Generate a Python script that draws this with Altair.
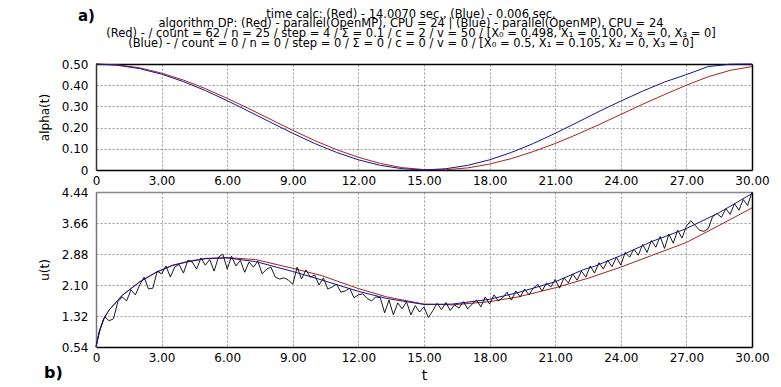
import altair as alt
import pandas as pd

# ---------------- data ----------------
t_alpha = list(range(31))
alpha_red = [0.500, 0.496, 0.482, 0.457, 0.424, 0.384, 0.338, 0.289, 0.238, 0.187,
             0.139, 0.096, 0.060, 0.031, 0.011, 0.002, 0.001, 0.010, 0.028, 0.054,
             0.087, 0.125, 0.168, 0.214, 0.262, 0.310, 0.356, 0.400, 0.440, 0.470, 0.488]
alpha_blue = [0.500, 0.494, 0.478, 0.452, 0.417, 0.375, 0.327, 0.276, 0.224, 0.173,
              0.125, 0.083, 0.048, 0.022, 0.006, 0.000, 0.006, 0.022, 0.048, 0.083,
              0.125, 0.173, 0.224, 0.276, 0.325, 0.372, 0.415, 0.450, 0.488, 0.499, 0.500]

t_u_blue = [0, 0.15, 0.35, 0.6, 1.2, 2, 2.75, 3.5, 4.25, 5, 6, 7.3, 9, 10.3, 12, 13.3, 15,
            16.3, 18, 19.3, 21, 22.3, 22.8, 24, 25.4, 27, 28.5, 30]
u_blue = [0.54, 0.93, 1.25, 1.47, 1.84, 2.18, 2.42, 2.59, 2.69, 2.76, 2.78, 2.69, 2.44, 2.23,
          1.94, 1.76, 1.61, 1.62, 1.74, 1.91, 2.18, 2.49, 2.57, 2.84, 3.19, 3.52, 3.92, 4.40]

t_u_red = [0, 0.15, 0.35, 0.6, 1.2, 2, 2.75, 3.5, 4.25, 5, 6, 7.3, 9, 10.3, 12, 13.3, 15,
           16.3, 18, 19.3, 21, 22.5, 24, 25.4, 27, 28.5, 30]
u_red = [0.54, 0.93, 1.25, 1.47, 1.84, 2.18, 2.42, 2.60, 2.70, 2.77, 2.79, 2.74, 2.52, 2.34,
         2.01, 1.80, 1.62, 1.60, 1.68, 1.80, 2.03, 2.27, 2.55, 2.84, 3.17, 3.60, 4.04]

t_black = [round(i * 0.2, 1) for i in range(151)]
u_black = [0.56, 1.00, 1.30, 1.20, 1.25, 1.68, 1.80, 1.70, 1.98, 1.85,
           2.10, 2.30, 2.00, 2.02, 2.45, 2.38, 2.58, 2.30, 2.55, 2.62,
           2.40, 2.72, 2.68, 2.50, 2.78, 2.60, 2.74, 2.45, 2.80, 2.88,
           2.50, 2.82, 2.58, 2.72, 2.42, 2.68, 2.55, 2.70, 2.38, 2.50,
           2.55, 2.30, 2.25, 2.28, 2.22, 2.12, 2.55, 2.25, 2.48, 2.30,
           2.35, 2.10, 2.28, 2.00, 2.05, 2.12, 1.92, 1.95, 2.02, 1.78,
           1.85, 1.88, 1.76, 1.70, 1.80, 1.78, 1.40, 1.72, 1.35, 1.65,
           1.50, 1.68, 1.35, 1.58, 1.42, 1.55, 1.28, 1.45, 1.64, 1.48,
           1.66, 1.46, 1.60, 1.52, 1.68, 1.50, 1.62, 1.72, 1.55, 1.80,
           1.62, 1.85, 1.70, 1.78, 1.92, 1.72, 1.95, 1.80, 2.00, 1.85,
           2.02, 2.12, 1.95, 2.15, 2.05, 2.24, 2.02, 2.28, 2.15, 2.38,
           2.22, 2.45, 2.30, 2.58, 2.40, 2.66, 2.50, 2.72, 2.56, 2.80,
           2.60, 2.92, 2.80, 3.00, 2.85, 3.12, 2.92, 3.22, 3.05, 3.32,
           3.02, 3.38, 3.15, 3.48, 3.28, 3.58, 3.72, 3.60, 3.48, 3.45,
           3.52, 3.82, 3.90, 3.80, 4.02, 3.88, 4.15, 3.98, 4.25, 4.10,
           4.44]

x_ticks = [0, 3, 6, 9, 12, 15, 18, 21, 24, 27, 30]
alpha_ticks = [0, 0.1, 0.2, 0.3, 0.4, 0.5]
u_ticks = [0.54, 1.32, 2.10, 2.88, 3.66, 4.44]

title_lines = [
    "time calc:  (Red) - 14.0070 sec., (Blue) - 0.006 sec.",
    "algorithm DP:  (Red) - parallel(OpenMP), CPU = 24 | (Blue) - parallel(OpenMP), CPU = 24",
    "(Red) - / count = 62 / n = 25 / step = 4 / \u03a3 = 0.1 / c = 2 / v = 50 / [X\u2080 = 0.498, X\u2081 = 0.100, X\u2082 = 0, X\u2083 = 0]",
    "(Blue) - / count = 0 / n = 0 / step = 0 / \u03a3 = 0 / c = 0 / v = 0 / [X\u2080 = 0.5, X\u2081 = 0.105, X\u2082 = 0, X\u2083 = 0]",
]

RED = "#a8201f"
BLUE = "#141490"
FONT = "DejaVu Sans"

# layout constants (pixels, relative to each plot area)
TITLE_X = 315
TITLE_Y = [-46.5, -36.7, -26.9, -17.1]

# ---------------- frames ----------------
df_alpha = pd.concat([
    pd.DataFrame({"t": t_alpha, "v": alpha_red, "s": "Red"}),
    pd.DataFrame({"t": t_alpha, "v": alpha_blue, "s": "Blue"}),
])
df_ured = pd.DataFrame({"t": t_u_red, "v": u_red})
df_ublue = pd.DataFrame({"t": t_u_blue, "v": u_blue})
df_ublack = pd.DataFrame({"t": t_black, "v": u_black})

label_expr = "datum.value == 0 ? '0' : format(datum.value, '.2f')"


def x_axis(title=None):
    return alt.Axis(values=x_ticks, labelExpr=label_expr, title=title, grid=True,
                    gridDash=[2, 2], gridColor="#999999", gridWidth=1, ticks=False,
                    domainColor="black", domainWidth=1.5, labelFont=FONT, labelFontSize=12,
                    labelColor="black", labelPadding=5, labelFlush=False,
                    labelOverlap=False, titleFont=FONT, titleFontSize=14,
                    titleFontWeight="normal", titleColor="black", titlePadding=5)


def y_axis(vals, title, fmt_expr, dom):
    return alt.Axis(values=vals, labelExpr=fmt_expr, title=title, grid=True,
                    gridDash=[2, 2], gridColor="#999999", gridWidth=1, ticks=False,
                    domainColor=dom, domainWidth=1.5, labelFont=FONT, labelFontSize=12,
                    labelColor="black", labelPadding=8, labelFlush=False,
                    labelOverlap=False, titleFont=FONT, titleFontSize=12,
                    titleFontWeight="normal", titleColor="black", titlePadding=10)


def border_axis(orient, color):
    return alt.Axis(orient=orient, labels=False, ticks=False, grid=False, title=None,
                    domainColor=color, domainWidth=1.5)


xs = alt.Scale(domain=[0, 30], nice=False, zero=False)

# ---------------- top panel ----------------
a_scale = alt.Scale(domain=[0, 0.5], nice=False, zero=False)
top_lines = alt.Chart(df_alpha).mark_line(strokeWidth=1).encode(
    x=alt.X("t:Q", scale=xs, axis=x_axis()),
    y=alt.Y("v:Q", scale=a_scale,
            axis=y_axis(alpha_ticks, "alpha(t)", label_expr, "#333333")),
    color=alt.Color("s:N", scale=alt.Scale(domain=["Red", "Blue"], range=[RED, BLUE]),
                    legend=None),
    detail="s:N",
)
top_border = alt.Chart(df_alpha).mark_line(opacity=0).encode(
    x=alt.X("t:Q", scale=xs, axis=border_axis("top", "black")),
    y=alt.Y("v:Q", scale=a_scale, axis=border_axis("right", "black")),
)
title_layers = [
    alt.Chart(pd.DataFrame({"l": [line]})).mark_text(
        font=FONT, fontSize=11.5, align="center", baseline="alphabetic", color="black"
    ).encode(text="l:N", x=alt.value(TITLE_X), y=alt.value(TITLE_Y[i]))
    for i, line in enumerate(title_lines)
]
label_a = alt.Chart(pd.DataFrame({"l": ["a)"]})).mark_text(
    font=FONT, fontSize=15, fontWeight="bold", align="left", baseline="alphabetic",
    color="black").encode(text="l:N", x=alt.value(-18), y=alt.value(-43))

top = alt.layer(top_lines, top_border, *title_layers, label_a).resolve_axis(
    x="independent", y="independent").properties(width=656, height=106)

# ---------------- bottom panel ----------------
u_scale = alt.Scale(domain=[0.54, 4.44], nice=False, zero=False)

b_red = alt.Chart(df_ured).mark_line(strokeWidth=1, color=RED).encode(
    x=alt.X("t:Q", scale=xs, axis=x_axis("t")),
    y=alt.Y("v:Q", scale=u_scale,
            axis=y_axis(u_ticks, "u(t)", "format(datum.value, '.2f')", "#777777")))
b_black = alt.Chart(df_ublack).mark_line(strokeWidth=0.9, color="black").encode(
    x=alt.X("t:Q", scale=xs, axis=None), y=alt.Y("v:Q", scale=u_scale, axis=None))
b_blue = alt.Chart(df_ublue).mark_line(strokeWidth=1, color=BLUE).encode(
    x=alt.X("t:Q", scale=xs, axis=None), y=alt.Y("v:Q", scale=u_scale, axis=None))
b_border = alt.Chart(df_ublue).mark_line(opacity=0).encode(
    x=alt.X("t:Q", scale=xs, axis=border_axis("top", "#888888")),
    y=alt.Y("v:Q", scale=u_scale, axis=border_axis("right", "black")))
label_b = alt.Chart(pd.DataFrame({"l": ["b)"]})).mark_text(
    font=FONT, fontSize=16, fontWeight="bold", align="left", baseline="alphabetic",
    color="black").encode(text="l:N", x=alt.value(-52), y=alt.value(186))

bottom = alt.layer(b_red, b_black, b_blue, b_border, label_b).resolve_axis(
    x="independent", y="independent").properties(width=656, height=155)

chart = alt.vconcat(top, bottom, spacing=0).properties(
    padding={"left": 30, "top": 0, "right": 0, "bottom": 0},
    background="white",
).configure_view(stroke=None)

chart.save("out.html", embed_options={"renderer": "svg", "actions": False})
